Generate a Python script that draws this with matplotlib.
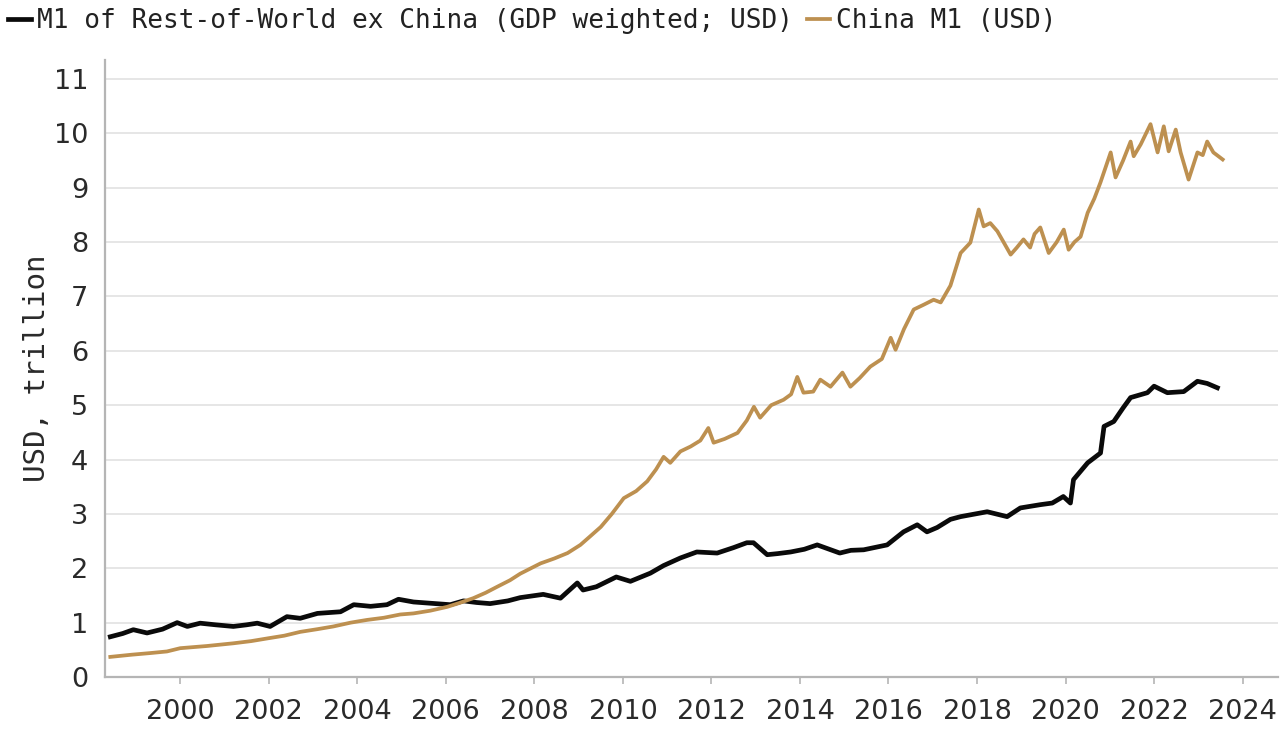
import matplotlib
matplotlib.use("Agg")
import matplotlib.pyplot as plt
from matplotlib.lines import Line2D

# ---- data ----
row_label = "M1 of Rest-of-World ex China (GDP weighted; USD)"
china_label = "China M1 (USD)"

row_x = [1998.42, 1998.70, 1998.94, 1999.25, 1999.60, 1999.93, 2000.16, 2000.45, 2000.80,
         2001.20, 2001.50, 2001.74, 2002.03, 2002.41, 2002.71, 2003.10, 2003.62, 2003.92,
         2004.30, 2004.67, 2004.93, 2005.27, 2005.60, 2006.10, 2006.40, 2006.70, 2007.00,
         2007.40, 2007.68, 2008.20, 2008.59, 2008.97, 2009.10, 2009.40, 2009.85, 2010.17,
         2010.62, 2010.92, 2011.30, 2011.67, 2012.13, 2012.50, 2012.80, 2012.95, 2013.26,
         2013.50, 2013.79, 2014.10, 2014.39, 2014.90, 2015.15, 2015.44, 2015.97, 2016.34,
         2016.65, 2016.87, 2017.10, 2017.40, 2017.63, 2018.23, 2018.68, 2018.98, 2019.43,
         2019.70, 2019.95, 2020.11, 2020.18, 2020.50, 2020.79, 2020.87, 2021.09, 2021.30,
         2021.47, 2021.85, 2022.00, 2022.30, 2022.67, 2022.98, 2023.20, 2023.43]
row_y = [0.74, 0.80, 0.87, 0.81, 0.88, 1.00, 0.93, 0.99, 0.96,
         0.93, 0.96, 0.99, 0.93, 1.11, 1.08, 1.17, 1.20, 1.33,
         1.30, 1.33, 1.43, 1.38, 1.36, 1.33, 1.40, 1.37, 1.35,
         1.40, 1.46, 1.52, 1.45, 1.73, 1.60, 1.66, 1.84, 1.76,
         1.91, 2.05, 2.19, 2.30, 2.28, 2.38, 2.47, 2.47, 2.25,
         2.27, 2.30, 2.35, 2.43, 2.28, 2.33, 2.34, 2.43, 2.67,
         2.80, 2.67, 2.75, 2.90, 2.95, 3.04, 2.95, 3.11, 3.17,
         3.20, 3.32, 3.20, 3.63, 3.94, 4.12, 4.61, 4.70, 4.95,
         5.14, 5.23, 5.35, 5.23, 5.25, 5.44, 5.40, 5.32]

china_x = [1998.42, 1998.90, 1999.32, 1999.70, 2000.00, 2000.60, 2001.20, 2001.60, 2001.97,
           2002.35, 2002.71, 2003.10, 2003.46, 2003.85, 2004.22, 2004.60, 2004.97, 2005.27,
           2005.65, 2006.03, 2006.30, 2006.62, 2006.90, 2007.16, 2007.45, 2007.68, 2008.14,
           2008.45, 2008.75, 2009.04, 2009.25, 2009.50, 2009.75, 2010.02, 2010.30, 2010.55,
           2010.75, 2010.92, 2011.07, 2011.30, 2011.53, 2011.75, 2011.93, 2012.05, 2012.30,
           2012.59, 2012.80, 2012.96, 2013.10, 2013.35, 2013.63, 2013.80, 2013.94, 2014.08,
           2014.30, 2014.46, 2014.69, 2014.96, 2015.14, 2015.35, 2015.59, 2015.85, 2016.05,
           2016.16, 2016.35, 2016.57, 2016.80, 2017.02, 2017.18, 2017.40, 2017.63, 2017.85,
           2018.04, 2018.15, 2018.30, 2018.46, 2018.60, 2018.76, 2018.90, 2019.05, 2019.20,
           2019.30, 2019.43, 2019.62, 2019.80, 2019.96, 2020.07, 2020.20, 2020.34, 2020.50,
           2020.65, 2020.79, 2021.02, 2021.13, 2021.30, 2021.47, 2021.54, 2021.70, 2021.92,
           2022.08, 2022.22, 2022.33, 2022.49, 2022.60, 2022.78, 2022.98, 2023.10, 2023.20,
           2023.34, 2023.55]
china_y = [0.37, 0.41, 0.44, 0.47, 0.53, 0.57, 0.62, 0.66, 0.71,
           0.76, 0.83, 0.88, 0.93, 1.00, 1.05, 1.09, 1.15, 1.17,
           1.22, 1.29, 1.36, 1.45, 1.55, 1.66, 1.78, 1.90, 2.09,
           2.18, 2.28, 2.43, 2.58, 2.76, 3.00, 3.29, 3.42, 3.60,
           3.82, 4.05, 3.94, 4.15, 4.24, 4.35, 4.58, 4.31, 4.38,
           4.49, 4.72, 4.97, 4.77, 5.00, 5.10, 5.20, 5.52, 5.23,
           5.25, 5.47, 5.34, 5.60, 5.34, 5.50, 5.71, 5.85, 6.24,
           6.02, 6.40, 6.76, 6.85, 6.94, 6.89, 7.20, 7.80, 7.99,
           8.60, 8.29, 8.35, 8.20, 8.00, 7.77, 7.90, 8.05, 7.90,
           8.15, 8.27, 7.80, 8.00, 8.23, 7.86, 8.00, 8.10, 8.54,
           8.80, 9.10, 9.65, 9.19, 9.50, 9.85, 9.58, 9.80, 10.17,
           9.65, 10.13, 9.67, 10.07, 9.65, 9.15, 9.65, 9.60, 9.85,
           9.65, 9.52]

x_ticks = [2000, 2002, 2004, 2006, 2008, 2010, 2012, 2014, 2016, 2018, 2020, 2022, 2024]
y_ticks = [0, 1, 2, 3, 4, 5, 6, 7, 8, 9, 10, 11]
y_label = "USD, trillion"

# ---- figure ----
W, H = 1281, 731
fig = plt.figure(figsize=(W / 100, H / 100), dpi=100)
fig.patch.set_facecolor("white")
ax = fig.add_axes([105 / W, 1 - 677 / H, (1278 - 105) / W, (677 - 60) / H])

black = "#0a0a0a"
gold = "#BD9050"

ax.plot(row_x, row_y, color=black, lw=3.4, solid_joinstyle="round", zorder=3)
ax.plot(china_x, china_y, color=gold, lw=2.7, solid_joinstyle="round", zorder=4)

ax.set_xlim(1998.3, 2024.8)
ax.set_ylim(0, 11.35)
ax.set_xticks(x_ticks)
ax.set_yticks(y_ticks)
ax.set_xticklabels([str(t) for t in x_ticks])
ax.set_yticklabels([str(t) for t in y_ticks])

for s in ["top", "right"]:
    ax.spines[s].set_visible(False)
for s in ["left", "bottom"]:
    ax.spines[s].set_color("#b5b5b5")
    ax.spines[s].set_linewidth(1.6)

ax.yaxis.grid(True, color="#e4e4e4", lw=1.3)
ax.xaxis.grid(False)
ax.set_axisbelow(True)

ax.tick_params(axis="x", length=5, width=1.2, color="#b5b5b5", pad=11,
               labelsize=19.5, labelcolor="#2a2a2a")
ax.tick_params(axis="y", length=0, pad=12, labelsize=19.5, labelcolor="#2a2a2a")
for lab in ax.get_xticklabels() + ax.get_yticklabels():
    lab.set_family("DejaVu Sans")

ax.set_ylabel(y_label, family="DejaVu Sans Mono", fontsize=21, color="#2a2a2a", labelpad=2)

handles = [Line2D([], [], color=black, lw=3.4), Line2D([], [], color=gold, lw=2.7)]
leg = fig.legend(handles, [row_label, china_label], loc="upper left",
                 bbox_to_anchor=(0.0, 1.0), ncol=2, frameon=False,
                 prop={"family": "DejaVu Sans Mono", "size": 18.8},
                 handlelength=0.9, handletextpad=0.2, columnspacing=0.55,
                 borderaxespad=0.1, borderpad=0.2)
for t in leg.get_texts():
    t.set_color("#222222")

fig.savefig("out.png", dpi=100, facecolor="white")
